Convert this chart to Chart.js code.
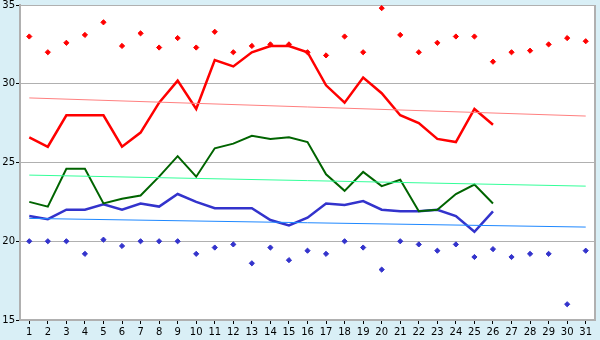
<!DOCTYPE html>
<html>
<head>
<meta charset="utf-8">
<script src="https://cdn.jsdelivr.net/npm/chart.js@4"></script>
<style>
html,body{margin:0;padding:0;background:#d9eff6;}
#wrap{width:600px;height:340px;}
</style>
</head>
<body>
<div id="wrap"><canvas id="c" width="600" height="340"></canvas></div>
<script>
const days = ['1','2','3','4','5','6','7','8','9','10','11','12','13','14','15','16','17','18','19','20','21','22','23','24','25','26','27','28','29','30','31'];
const maxLine = [26.6,26.0,28.0,28.0,28.0,26.0,26.9,28.8,30.2,28.4,31.5,31.1,32.0,32.4,32.4,32.0,29.9,28.8,30.4,29.4,28.0,27.5,26.5,26.3,28.4,27.4,null,null,null,null,null];
const avgLine = [22.5,22.2,24.6,24.6,22.4,22.7,22.9,24.1,25.4,24.1,25.9,26.2,26.7,26.5,26.6,26.3,24.25,23.2,24.4,23.5,23.9,21.9,22.0,23.0,23.6,22.4,null,null,null,null,null];
const minLine = [21.6,21.4,22.0,22.0,22.35,22.0,22.4,22.2,23.0,22.5,22.1,22.1,22.1,21.35,21.0,21.5,22.4,22.3,22.55,22.0,21.9,21.9,22.0,21.6,20.6,21.9,null,null,null,null,null];
const maxPoints = [33.0,32.0,32.6,33.1,33.9,32.4,33.2,32.3,32.9,32.3,33.3,32.0,32.4,32.5,32.5,32.0,31.8,33.0,32.0,34.8,33.1,32.0,32.6,33.0,33.0,31.4,32.0,32.1,32.5,32.9,32.7];
const minPoints = [20.0,20.0,20.0,19.2,20.1,19.7,20.0,20.0,20.0,19.2,19.6,19.8,18.6,19.6,18.8,19.4,19.2,20.0,19.6,18.2,20.0,19.8,19.4,19.8,19.0,19.5,19.0,19.2,19.2,16.0,19.4];
const trendMax = [29.1,null,null,null,null,null,null,null,null,null,null,null,null,null,null,null,null,null,null,null,null,null,null,null,null,null,null,null,null,null,27.95];
const trendAvg = [24.2,null,null,null,null,null,null,null,null,null,null,null,null,null,null,null,null,null,null,null,null,null,null,null,null,null,null,null,null,null,23.5];
const trendMin = [21.45,null,null,null,null,null,null,null,null,null,null,null,null,null,null,null,null,null,null,null,null,null,null,null,null,null,null,null,null,null,20.9];
const yTicks = [15,20,25,30,35];

const bgPlugin = {
  id: 'bg',
  beforeDraw(chart) {
    const {ctx, chartArea: a} = chart;
    ctx.save();
    ctx.fillStyle = '#d9eff6';
    ctx.fillRect(0, 0, chart.width, chart.height);
    ctx.fillStyle = '#ffffff';
    ctx.fillRect(a.left, a.top, a.right - a.left, a.bottom - a.top);
    ctx.restore();
  },
  beforeDatasetsDraw(chart) {
    const {ctx, chartArea: a} = chart;
    ctx.save();
    ctx.strokeStyle = '#b0b0b0';
    ctx.lineWidth = 2;
    ctx.beginPath();
    ctx.moveTo(a.right, a.top);
    ctx.lineTo(a.right, a.bottom);
    ctx.stroke();
    ctx.restore();
  }
};

const trendDs = (data, color) => ({
  data, borderColor: color, borderWidth: 1, pointRadius: 0, pointHoverRadius: 0,
  spanGaps: true, fill: false, tension: 0
});
const lineDs = (data, color, w) => ({
  data, borderColor: color, borderWidth: w, pointRadius: 0, pointHoverRadius: 0,
  spanGaps: false, fill: false, tension: 0
});
const ptDs = (data, color) => ({
  data, showLine: false, borderColor: color, backgroundColor: color,
  pointStyle: 'rectRot', pointRadius: 2.6, pointBorderWidth: 1
});

new Chart(document.getElementById('c'), {
  type: 'line',
  data: {
    labels: days,
    datasets: [
      trendDs(trendMax, '#ff8080'),
      trendDs(trendAvg, '#33ff99'),
      trendDs(trendMin, '#1e88ff'),
      lineDs(maxLine, '#ff0000', 2.5),
      lineDs(avgLine, '#006400', 2),
      lineDs(minLine, '#3333cc', 2.5),
      ptDs(maxPoints, '#ff0000'),
      ptDs(minPoints, '#3333cc')
    ]
  },
  options: {
    responsive: false,
    animation: false,
    devicePixelRatio: 1,
    layout: { padding: { top: 5, right: 5, left: 0, bottom: 0 } },
    plugins: { legend: { display: false }, tooltip: { enabled: false } },
    scales: {
      x: {
        type: 'category',
        offset: true,
        grid: { display: true, drawOnChartArea: false, offset: false, color: '#000000', tickLength: 4, tickWidth: 1 },
        border: { color: '#b0b0b0', width: 2 },
        ticks: { color: '#000', font: { family: 'DejaVu Sans', size: 10 }, padding: 2, maxRotation: 0, autoSkip: false },
        afterFit(s) { s.height = 20; s.paddingLeft = 0; s.paddingRight = 0; }
      },
      y: {
        min: 15, max: 35,
        afterBuildTicks(s) { s.ticks = yTicks.map(v => ({ value: v })); },
        grid: { color: '#b0b0b0', lineWidth: 1, tickLength: 4, tickColor: '#000000' },
        border: { color: '#b0b0b0', width: 2 },
        ticks: { color: '#000', font: { family: 'DejaVu Sans', size: 10 }, padding: 1 },
        afterFit(s) { s.width = 20; s.paddingTop = 0; s.paddingBottom = 0; }
      }
    }
  },
  plugins: [bgPlugin]
});
</script>
</body>
</html>
